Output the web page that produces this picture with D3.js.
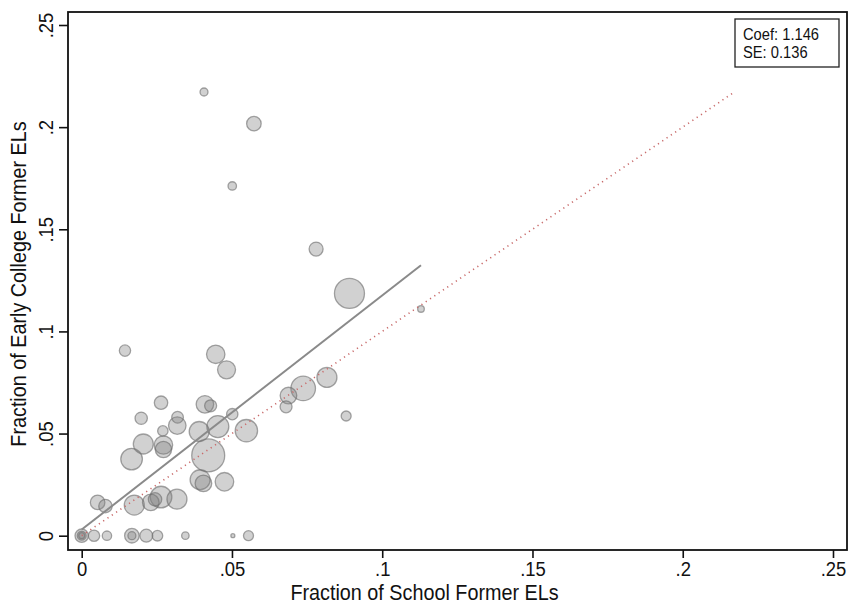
<!DOCTYPE html>
<html>
<head>
<meta charset="utf-8">
<script src="https://cdn.jsdelivr.net/npm/d3@7"></script>
<style>
  body { margin: 0; background: #fff; }
  svg text { font-family: "Liberation Sans", Arial, sans-serif; fill: #111; }
</style>
</head>
<body>
<svg id="plot"></svg>
<script>
// fraction of former ELs: school (x) vs early college (y), bubble weight = enrolment
const schoolFrac = [
  0.0407, 0.0573, 0.0501, 0.0780, 0.0891, 0.1129, 0.0144, 0.0446, 0.0482, 0.0264,
  0.0410, 0.0429, 0.0501, 0.0198, 0.0319, 0.0318, 0.0270, 0.0391, 0.0453, 0.0548,
  0.0205, 0.0272, 0.0272, 0.0166, 0.0421, 0.0394, 0.0405, 0.0475, 0.0053, 0.0079,
  0.0175, 0.0230, 0.0244, 0.0264, 0.0317, 0.0816, 0.0737, 0.0688, 0.0680, 0.0880,
  0, 0, 0, 0.0041, 0.0084, 0.0167, 0.0167, 0.0215, 0.0252, 0.0345, 0.0503, 0.0555
];
const ecFrac = [
  0.2172, 0.2017, 0.1712, 0.1403, 0.1186, 0.1110, 0.0906, 0.0888, 0.0812, 0.0651,
  0.0643, 0.0636, 0.0595, 0.0575, 0.0580, 0.0539, 0.0513, 0.0510, 0.0534, 0.0514,
  0.0449, 0.0444, 0.0422, 0.0375, 0.0393, 0.0274, 0.0256, 0.0264, 0.0163, 0.0145,
  0.0150, 0.0163, 0.0178, 0.0189, 0.0179, 0.0775, 0.0721, 0.0686, 0.0631, 0.0586,
  0, 0, 0, 0, 0, 0, 0, 0, 0, 0, 0, 0
];
const weight = [
  16, 53, 18, 49, 225, 11, 32, 85, 81, 45,
  77, 36, 32, 38, 34, 77, 27, 100, 121, 125,
  100, 85, 67, 117, 272, 100, 69, 86, 53, 45,
  100, 69, 45, 117, 100, 100, 151, 69, 36, 25,
  45, 20, 9, 32, 22, 53, 16, 42, 28, 14, 4, 25
];

const xTicks = [0, 0.05, 0.1, 0.15, 0.2, 0.25];
const yTicks = [0, 0.05, 0.1, 0.15, 0.2, 0.25];
const xTitle = 'Fraction of School Former ELs';
const yTitle = 'Fraction of Early College Former ELs';
const noteLines = ['Coef: 1.146', 'SE: 0.136'];
const fitIntercept = 0.003;
const fitSlope = 1.146;

const W = 849, H = 604;
const frame = {left: 68, top: 12, right: 847, bottom: 550};
const NARROW = 0.9;

const svg = d3.select('svg#plot').attr('width', W).attr('height', H);

const x = d3.scaleLinear().domain([0, 0.25]).range([81.7, 833]);
const y = d3.scaleLinear().domain([0, 0.25]).range([535.7, 25]);
const r = d3.scaleSqrt().domain([0, 289]).range([0, 17]);

const fmt = d => d === 0 ? '0' : d3.format('.2~f')(d).replace(/^0/, '');

const data = schoolFrac.map((d, i) => ({x: d, y: ecFrac[i], w: weight[i]}));
data.sort((a, b) => b.w - a.w);

// bubbles
svg.append('g')
  .selectAll('circle')
  .data(data)
  .join('circle')
    .attr('cx', d => x(d.x))
    .attr('cy', d => y(d.y))
    .attr('r', d => r(d.w))
    .attr('fill', '#808080')
    .attr('fill-opacity', 0.36)
    .attr('stroke', '#6a6a6a')
    .attr('stroke-opacity', 0.6)
    .attr('stroke-width', 1.3);

// 45 degree reference line
const yMax = d3.max(ecFrac);
svg.append('line')
  .attr('x1', x(0)).attr('y1', y(0))
  .attr('x2', x(yMax)).attr('y2', y(yMax))
  .attr('stroke', '#c86a6a')
  .attr('stroke-width', 1.6)
  .attr('stroke-dasharray', '1.2,4');

// fitted line
const xMax = d3.max(schoolFrac);
svg.append('line')
  .attr('x1', x(0)).attr('y1', y(fitIntercept))
  .attr('x2', x(xMax)).attr('y2', y(fitIntercept + fitSlope * xMax))
  .attr('stroke', '#8a8a8a')
  .attr('stroke-width', 2);

// frame
svg.append('rect')
  .attr('x', frame.left).attr('y', frame.top)
  .attr('width', frame.right - frame.left)
  .attr('height', frame.bottom - frame.top)
  .attr('fill', 'none')
  .attr('stroke', '#111')
  .attr('stroke-width', 1.8);

// axes
const xAxis = svg.append('g')
  .attr('transform', `translate(0,${frame.bottom})`)
  .call(d3.axisBottom(x).tickValues(xTicks).tickFormat(fmt).tickSize(8).tickSizeOuter(0));
const yAxis = svg.append('g')
  .attr('transform', `translate(${frame.left},0)`)
  .call(d3.axisLeft(y).tickValues(yTicks).tickFormat(fmt).tickSize(9).tickSizeOuter(0));

[xAxis, yAxis].forEach(a => {
  a.select('.domain').remove();
  a.selectAll('.tick line').attr('stroke', '#111').attr('stroke-width', 1.6);
  a.selectAll('.tick text').attr('fill', '#111').style('font-size', '20.5px');
});

xAxis.selectAll('.tick text')
  .attr('y', null).attr('dy', null)
  .attr('transform', `translate(0,26) scale(${NARROW},1)`);

yAxis.selectAll('.tick text')
  .attr('x', null).attr('dy', null)
  .attr('text-anchor', 'middle')
  .attr('transform', `translate(-15,0) rotate(-90) scale(${NARROW},1)`);

// axis titles
svg.append('text')
  .attr('text-anchor', 'middle')
  .attr('transform', `translate(${W / 2},600) scale(${NARROW},1)`)
  .style('font-size', '22px')
  .text(xTitle);

svg.append('text')
  .attr('text-anchor', 'middle')
  .attr('transform', `translate(26,284) rotate(-90) scale(${NARROW},1)`)
  .style('font-size', '22px')
  .text(yTitle);

// coefficient box
const note = svg.append('g').attr('transform', 'translate(735,19)');
note.append('rect')
  .attr('width', 104).attr('height', 48)
  .attr('fill', '#fff')
  .attr('stroke', '#222')
  .attr('stroke-width', 1.3);
note.selectAll('text')
  .data(noteLines)
  .join('text')
    .attr('transform', (d, i) => `translate(8,${20.5 + i * 18}) scale(0.92,1)`)
    .style('font-size', '16px')
    .text(d => d);
</script>
</body>
</html>
